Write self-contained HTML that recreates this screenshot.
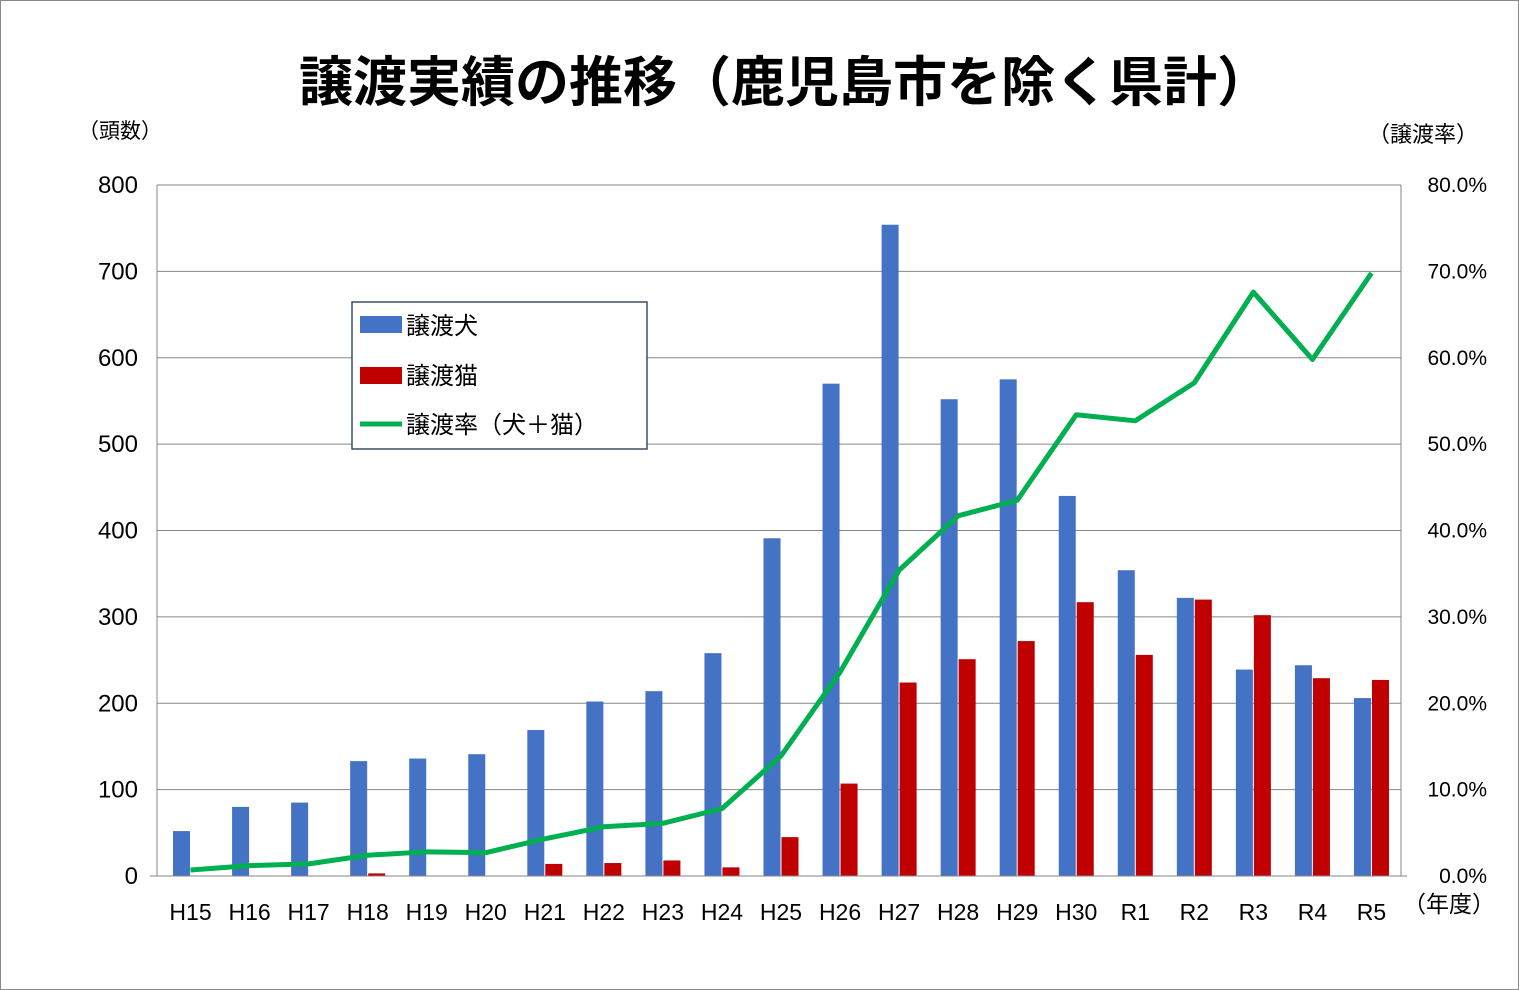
<!DOCTYPE html>
<html><head><meta charset="utf-8">
<style>
body{margin:0;background:#fff;}
#wrap{position:relative;width:1519px;height:990px;overflow:hidden;}
svg text{font-family:"Liberation Sans","Noto Sans CJK JP",sans-serif;}
</style></head>
<body>
<div id="wrap">
<svg id="chart" width="1519" height="990" xmlns="http://www.w3.org/2000/svg">
<rect x="0.5" y="0.5" width="1518" height="989" fill="#fff" stroke="#888"/>
<text x="785" y="101" text-anchor="middle" font-size="54" font-weight="bold" fill="#000">譲渡実績の推移（鹿児島市を除く県計）</text>
<text x="78" y="138" font-size="21" fill="#000">（頭数）</text>
<text x="1368" y="142" font-size="22" fill="#000">（譲渡率）</text>
<text x="1403" y="912" font-size="23" fill="#000">（年度）</text>
<g id="grid"></g><g id="bars"></g><g id="line"></g><g id="axes"></g>
<g>
<rect x="352" y="302" width="295" height="147" fill="#fff" stroke="#3b4e6b" stroke-width="1.5"/>
<rect x="360" y="316" width="42" height="17" fill="#4472c4"/>
<text x="406" y="334" font-size="24">譲渡犬</text>
<rect x="360" y="367" width="42" height="17" fill="#c00000"/>
<text x="406" y="384" font-size="24">譲渡猫</text>
<line x1="360" y1="424" x2="402" y2="424" stroke="#00b050" stroke-width="5"/>
<text x="406" y="433" font-size="24">譲渡率（犬＋猫）</text>
</g>
</svg>
</div>
<script>
const categories=["H15","H16","H17","H18","H19","H20","H21","H22","H23","H24","H25","H26","H27","H28","H29","H30","R1","R2","R3","R4","R5"];
const dogValues=[52,80,85,133,136,141,169,202,214,258,391,570,754,552,575,440,354,322,239,244,206];
const catValues=[0,0,0,3,0,0,14,15,18,10,45,107,224,251,272,317,256,320,302,229,227];
const rateValues=[0.7,1.2,1.4,2.4,2.8,2.7,4.3,5.7,6.1,7.8,13.9,23.6,35.4,41.7,43.5,53.4,52.7,57.1,67.6,59.8,69.8];
const leftTicks=[0,100,200,300,400,500,600,700,800];
const rightTicks=["0.0%","10.0%","20.0%","30.0%","40.0%","50.0%","60.0%","70.0%","80.0%"];
const NS="http://www.w3.org/2000/svg";
const X0=161,X1=1401,Y0=876,Y1=185;
const band=(X1-X0)/categories.length;
const xC=i=>X0+band*(i+0.5);
const yL=v=>Y0-(v/800)*(Y0-Y1);
const yR=v=>Y0-(v/80)*(Y0-Y1);
function mk(tag,attrs,parent){const e=document.createElementNS(NS,tag);for(const k in attrs)e.setAttribute(k,attrs[k]);parent.appendChild(e);return e;}
const grid=document.getElementById('grid'),bars=document.getElementById('bars'),line=document.getElementById('line'),axes=document.getElementById('axes');
leftTicks.forEach((t,i)=>{
 const y=yL(t);
 if(t>0){const g=mk('line',{x1:157,x2:X1,y1:y,y2:y,stroke:'#868686','stroke-width':1},grid);
 
 }
 const tl=mk('text',{x:138,y:y+8,'text-anchor':'end','font-size':24},axes);tl.textContent=t;
 
 
 const tr=mk('text',{x:1487,y:y+7,'text-anchor':'end','font-size':21},axes);tr.textContent=rightTicks[i];
 
 
});
const bw=17;
categories.forEach((c,i)=>{
 const cx=xC(i);
 const b=mk('rect',{x:cx-bw-0.5,y:yL(dogValues[i]),width:bw,height:Y0-yL(dogValues[i]),fill:'#4472c4'},bars);
 
 
 const r=mk('rect',{x:cx+0.5,y:yL(catValues[i]),width:bw,height:Y0-yL(catValues[i]),fill:'#c00000'},bars);
 
 
 const t=mk('text',{x:cx,y:920,'text-anchor':'middle','font-size':23},axes);t.textContent=c;
 
 
});
const pts=rateValues.map((v,i)=>xC(i)+','+yR(v)).join(' ');
const pl=mk('polyline',{points:pts,fill:'none',stroke:'#00b050','stroke-width':5,'stroke-linejoin':'round'},line);


const la=mk('line',{x1:157,x2:157,y1:Y1,y2:Y0,stroke:'#868686'},axes);


const ra=mk('line',{x1:X1,x2:X1,y1:Y1,y2:Y0,stroke:'#868686'},axes);


const xa=mk('line',{x1:150,x2:X1+6,y1:Y0,y2:Y0,stroke:'#868686'},axes);


</script>
</body></html>
